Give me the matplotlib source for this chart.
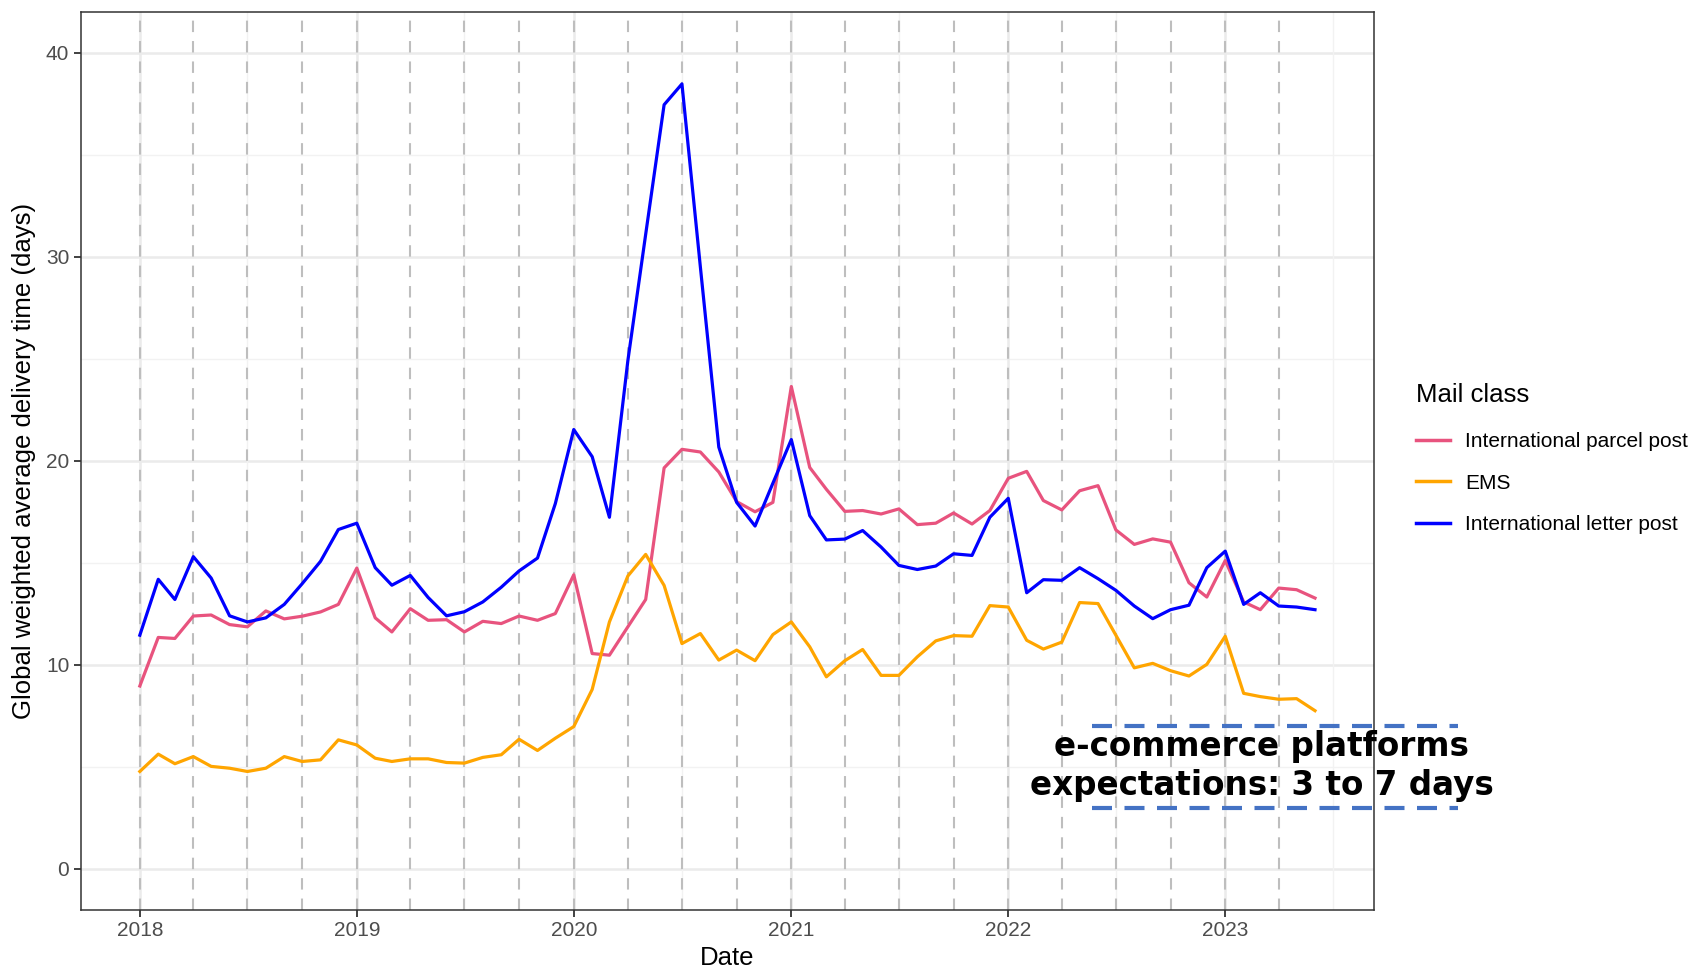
import numpy as np
import pandas as pd
import matplotlib
matplotlib.use("Agg")
import matplotlib.pyplot as plt
import matplotlib.dates as mdates

plt.rcParams['font.family'] = ['Liberation Sans', 'DejaVu Sans']

# Monthly series, Jan 2018 - Jun 2023
months = pd.date_range('2018-01-01', periods=66, freq='MS')

parcel_post = [8.96, 11.34, 11.29, 12.39, 12.44, 11.97, 11.86, 12.64, 12.25, 12.38, 12.59, 12.96,
               14.74, 12.3, 11.61, 12.75, 12.18, 12.21, 11.61, 12.13, 12.02, 12.39, 12.18, 12.51,
               14.41, 10.55, 10.47, 11.86, 13.2, 19.65, 20.56, 20.43, 19.45, 18.0, 17.5, 17.96,
               23.64, 19.67, 18.6, 17.52, 17.56, 17.39, 17.64, 16.87, 16.94, 17.44, 16.9, 17.56,
               19.14, 19.48, 18.05, 17.59, 18.53, 18.78, 16.61, 15.9, 16.17, 16.01, 14.02, 13.32,
               15.11, 13.08, 12.7, 13.76, 13.68, 13.27]

ems = [4.77, 5.62, 5.15, 5.5, 5.02, 4.93, 4.77, 4.93, 5.5, 5.26, 5.34, 6.32,
       6.07, 5.42, 5.26, 5.39, 5.39, 5.21, 5.18, 5.46, 5.59, 6.35, 5.8, 6.4,
       6.97, 8.79, 12.1, 14.35, 15.41, 13.89, 11.04, 11.53, 10.23, 10.72, 10.2, 11.48,
       12.1, 10.88, 9.41, 10.2, 10.75, 9.48, 9.48, 10.39, 11.17, 11.43, 11.4, 12.9,
       12.83, 11.2, 10.77, 11.11, 13.05, 13.0, 11.45, 9.85, 10.07, 9.71, 9.45, 10.02,
       11.4, 8.6, 8.44, 8.31, 8.34, 7.75]

letter_post = [11.45, 14.19, 13.2, 15.3, 14.25, 12.4, 12.1, 12.3, 12.96, 13.97, 15.07, 16.63,
               16.94, 14.76, 13.9, 14.38, 13.3, 12.4, 12.6, 13.08, 13.8, 14.6, 15.23, 17.9,
               21.53, 20.2, 17.23, 24.9, 31.1, 37.45, 38.47, 29.5, 20.67, 17.96, 16.8, 18.9,
               21.04, 17.31, 16.12, 16.16, 16.58, 15.77, 14.87, 14.67, 14.84, 15.44, 15.36, 17.23,
               18.16, 13.53, 14.17, 14.14, 14.76, 14.22, 13.65, 12.88, 12.26, 12.7, 12.92, 14.76,
               15.57, 12.96, 13.53, 12.88, 12.83, 12.7]

series_names = ['International parcel post', 'EMS', 'International letter post']
series_colors = ['#E8537E', '#FFA500', '#0000FF']

quarters = pd.date_range('2018-01-01', '2023-04-01', freq='QS')
years = pd.date_range('2018-01-01', '2023-01-01', freq='YS')
mid_years = pd.date_range('2018-07-01', '2023-07-01', freq='12MS')

fig = plt.figure(figsize=(16.96, 9.69), dpi=100)
ax = fig.add_axes([0.0478, 0.0613, 0.7622, 0.9264])

x = mdates.date2num(months)
span = x[-1] - x[0]
ax.set_xlim(x[0] - 0.05 * span, x[-1] + 0.05 * span)
ax.set_ylim(-2, 42)

# grid like theme_bw
for v in [5, 15, 25, 35]:
    ax.axhline(v, color='#F2F2F2', lw=1.0, zorder=0)
for v in [0, 10, 20, 30, 40]:
    ax.axhline(v, color='#EBEBEB', lw=1.8, zorder=0)
for d in mid_years:
    ax.axvline(d, color='#F2F2F2', lw=1.0, zorder=0)
for d in years:
    ax.axvline(d, color='#EBEBEB', lw=1.8, zorder=0)

for d in quarters:
    ax.axvline(d, color='#BEBEBE', lw=1.5, ls=(0, (5.5, 4.3)), zorder=1)

for vals, name, col in zip([parcel_post, ems, letter_post], series_names, series_colors):
    ax.plot(months, vals, color=col, lw=2.3, label=name, zorder=3)

ax.set_xticks(years)
ax.xaxis.set_major_formatter(mdates.DateFormatter('%Y'))
ax.set_yticks([0, 10, 20, 30, 40])
ax.tick_params(axis='both', labelsize=15, colors='#333333', labelcolor='#4D4D4D', length=5, width=1.3)
for s in ax.spines.values():
    s.set_color('#333333')
    s.set_linewidth(1.1)

ax.set_xlabel('Date', fontsize=18.5, labelpad=4)
ax.set_ylabel('Global weighted average delivery time (days)', fontsize=18.5, labelpad=7)

# e-commerce expectations annotation
band_x = mdates.date2num(pd.to_datetime(['2022-05-22', '2024-01-28']))
for yv in [3, 7]:
    ax.plot(band_x, [yv, yv], color='#4472C4', lw=3.0, ls=(0, (4.8, 3.0)), clip_on=False, zorder=4)
ax.text(mdates.date2num(pd.Timestamp('2023-03-03')), 5.05,
        'e-commerce platforms\nexpectations: 3 to 7 days',
        ha='center', va='center', fontsize=23.5, fontweight='bold', family='DejaVu Sans',
        linespacing=1.22, clip_on=False, zorder=5)

leg = ax.legend(title='Mail class', loc='upper left', bbox_to_anchor=(0.824, 0.624),
                bbox_transform=fig.transFigure, frameon=False, fontsize=15,
                title_fontsize=18.5, handlelength=1.6, handletextpad=0.75, labelspacing=1.08)
leg._legend_box.align = 'left'
leg._legend_box.sep = 18
for line in leg.get_lines():
    line.set_linewidth(2.5)

fig.savefig('out.png', dpi=100)
